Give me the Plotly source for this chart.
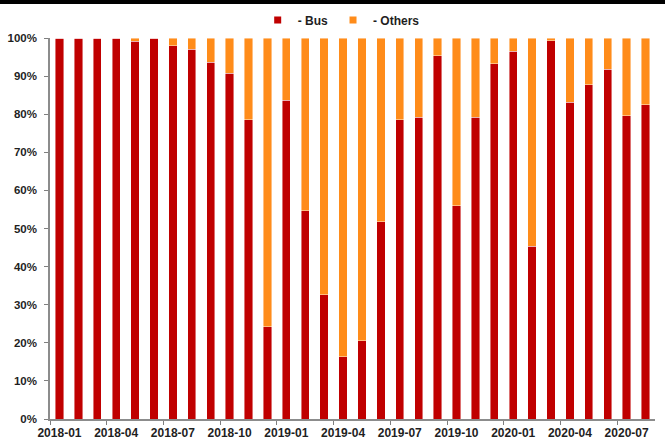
import plotly.graph_objects as go

months = ["2018-01", "2018-02", "2018-03", "2018-04", "2018-05", "2018-06", "2018-07", "2018-08",
          "2018-09", "2018-10", "2018-11", "2018-12", "2019-01", "2019-02", "2019-03", "2019-04",
          "2019-05", "2019-06", "2019-07", "2019-08", "2019-09", "2019-10", "2019-11", "2019-12",
          "2020-01", "2020-02", "2020-03", "2020-04", "2020-05", "2020-06", "2020-07", "2020-08"]
bus = [100, 100, 100, 100, 99.1, 100, 98.0, 97.1, 93.7, 90.8, 78.5, 24.2, 83.6, 54.6, 32.6, 16.3,
       20.6, 51.8, 78.5, 79.2, 95.4, 56.0, 79.2, 93.2, 96.5, 45.3, 99.3, 83.2, 87.7, 91.8, 79.6, 82.5]
others = [0, 0, 0, 0, 0.9, 0, 2.0, 2.9, 6.3, 9.2, 21.5, 75.8, 16.4, 45.4, 67.4, 83.7,
          79.4, 48.2, 21.5, 20.8, 4.6, 44.0, 20.8, 6.8, 3.5, 54.7, 0.7, 16.8, 12.3, 8.2, 20.4, 17.5]
series_names = ["- Bus", "- Others"]
colors = ["#C00000", "#FF8C1A"]
font_family = "Liberation Sans, Arial, sans-serif"
text_color = "#1f1f1f"

fig = go.Figure()
for name, vals, col in zip(series_names, [bus, others], colors):
    fig.add_trace(go.Bar(
        x=months, y=vals, name=name, width=0.44, showlegend=False,
        marker=dict(color=col, line=dict(color="rgba(255,255,255,0.55)", width=0.8)),
    ))
for name, col in zip(series_names, colors):
    fig.add_trace(go.Scatter(
        x=[None], y=[None], name=name, mode="markers",
        marker=dict(symbol="square", size=7, color=col),
    ))

fig.update_layout(
    width=669, height=445,
    margin=dict(l=50, r=14, t=38, b=26, autoexpand=False),
    barmode="stack",
    plot_bgcolor="white", paper_bgcolor="white",
    font=dict(family=font_family, size=11, color=text_color),
    legend=dict(orientation="h", traceorder="normal",
                x=0.51, xanchor="center", xref="container",
                y=1 - 20 / 445, yanchor="middle", yref="container",
                font=dict(size=12, family=font_family, color=text_color, weight="bold"),
                itemwidth=30, tracegroupgap=0, bgcolor="rgba(0,0,0,0)"),
    shapes=[dict(type="rect", xref="paper", yref="paper",
                 x0=-50 / 605, x1=(665 - 50) / 605, y0=1 + 34 / 381, y1=1 + 38 / 381,
                 fillcolor="black", line=dict(width=0))],
)
fig.update_xaxes(
    type="category", tickmode="linear", tick0=0, dtick=3, tickson="boundaries",
    ticks="outside", ticklen=4, tickcolor="#7f7f7f", tickwidth=1.2, tickangle=0,
    showline=True, linecolor="#8c8c8c", linewidth=1.5, showgrid=False, automargin=False,
    ticklabelstandoff=2,
    tickfont=dict(size=12, family=font_family, color=text_color, weight="bold"),
    range=[-0.5, 31.5],
)
fig.update_yaxes(
    range=[0, 100], dtick=10, ticksuffix="%", ticks="outside", ticklen=4,
    tickcolor="#7f7f7f", tickwidth=1.2, showline=True, linecolor="#8c8c8c", linewidth=1.5,
    showgrid=False, zeroline=False, ticklabelstandoff=5, automargin=False,
    tickfont=dict(size=11.5, family=font_family, color=text_color, weight="bold"),
)

fig.write_html("out.html")
